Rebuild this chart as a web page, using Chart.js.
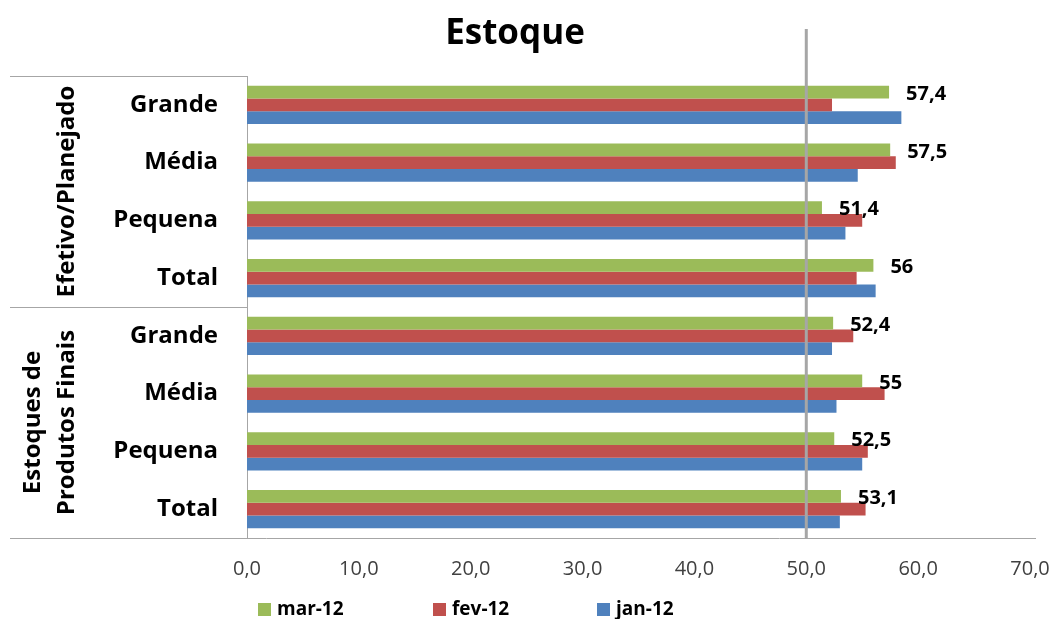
<!DOCTYPE html>
<html>
<head>
<meta charset="utf-8">
<script src="https://cdn.jsdelivr.net/npm/chart.js@4"></script>
<style>
    body { margin: 0; background: #fff; }
    #wrap { width: 1057px; height: 619px; }
</style>
</head>
<body>
<div id="wrap"><canvas id="stockChart"></canvas></div>
<script>
// Chart data
const categories = ["Grande", "Média", "Pequena", "Total", "Grande", "Média", "Pequena", "Total"];
const groups = [["Efetivo/Planejado"], ["Estoques de", "Produtos Finais"]];
const seriesNames = ["mar-12", "fev-12", "jan-12"];
const mar12 = [57.4, 57.5, 51.4, 56, 52.4, 55, 52.5, 53.1];
const fev12 = [52.3, 58.0, 55.0, 54.5, 54.2, 57.0, 55.5, 55.3];
const jan12 = [58.5, 54.6, 53.5, 56.2, 52.3, 52.7, 55.0, 53.0];
const xTicks = [0, 10, 20, 30, 40, 50, 60, 70];
const refLine = 50;

const colors = ["#9BBB59", "#C0504D", "#4F81BD"];
const FONT = "'Open Sans', 'Noto Sans', sans-serif";

function fmt(v) {
    return String(v).replace(".", ",");
}

// Extra drawing: reference line, group labels, separators, data labels, legend
const extras = {
    id: "extras",
    afterDatasetsDraw(chart) {
        const ctx = chart.ctx;
        const x = chart.scales.x;
        const y = chart.scales.y;
        const area = chart.chartArea;

        // line at 50
        const xr = x.getPixelForValue(refLine);
        ctx.save();
        ctx.strokeStyle = "#a6a6a6";
        ctx.lineWidth = 3;
        ctx.beginPath();
        ctx.moveTo(xr, 29);
        ctx.lineTo(xr, area.bottom);
        ctx.stroke();

        // separators
        ctx.strokeStyle = "#a6a6a6";
        ctx.lineWidth = 1;
        const half = (y.getPixelForValue(1) - y.getPixelForValue(0)) / 2;
        const sepMid = y.getPixelForValue(3) + half;
        ctx.beginPath();
        ctx.moveTo(10, area.top + 0.5); ctx.lineTo(area.left, area.top + 0.5);
        ctx.moveTo(10, Math.round(sepMid) + 0.5); ctx.lineTo(area.left, Math.round(sepMid) + 0.5);
        ctx.moveTo(10, area.bottom + 0.5); ctx.lineTo(area.right + 6, area.bottom + 0.5);
        ctx.stroke();

        // group labels
        ctx.fillStyle = "#000";
        ctx.font = "bold 24px " + FONT;
        ctx.textAlign = "center";
        ctx.textBaseline = "middle";
        const g1 = (area.top + sepMid) / 2;
        const g2 = (sepMid + area.bottom) / 2;
        ctx.save();
        ctx.translate(67, g1);
        ctx.rotate(-Math.PI / 2);
        ctx.fillText(groups[0][0], 0, 0);
        ctx.restore();
        ctx.save();
        ctx.translate(33, g2);
        ctx.rotate(-Math.PI / 2);
        ctx.fillText(groups[1][0], 0, 0);
        ctx.restore();
        ctx.save();
        ctx.translate(67, g2);
        ctx.rotate(-Math.PI / 2);
        ctx.fillText(groups[1][1], 0, 0);
        ctx.restore();

        // data labels for mar-12
        ctx.font = "bold 20px " + FONT;
        ctx.textAlign = "left";
        const meta = chart.getDatasetMeta(0);
        meta.data.forEach((bar, i) => {
            ctx.fillText(fmt(chart.data.datasets[0].data[i]), bar.x + 17, bar.y + 2);
        });

        // legend
        const lx = [258, 433, 597];
        ctx.font = "bold 19px " + FONT;
        chart.data.datasets.forEach((ds, i) => {
            ctx.fillStyle = ds.backgroundColor;
            ctx.fillRect(lx[i], 603, 13, 13);
            ctx.fillStyle = "#000";
            ctx.fillText(ds.label, lx[i] + 19, 610);
        });
        ctx.restore();
    }
};

const ctx = document.getElementById("stockChart").getContext("2d");

const stockChart = new Chart(ctx, {
    type: "bar",
    data: {
        labels: categories,
        datasets: [
            { label: seriesNames[0], data: mar12, backgroundColor: colors[0] },
            { label: seriesNames[1], data: fev12, backgroundColor: colors[1] },
            { label: seriesNames[2], data: jan12, backgroundColor: colors[2] }
        ]
    },
    options: {
        indexAxis: "y",
        responsive: true,
        maintainAspectRatio: false,
        animation: false,
        categoryPercentage: 0.66,
        barPercentage: 1.0,
        layout: { padding: { left: 0, right: 27, top: 0, bottom: 0 } },
        plugins: {
            legend: { display: false },
            tooltip: { enabled: false },
            title: {
                display: true,
                text: "Estoque",
                color: "#000",
                font: { family: FONT, size: 35, weight: "bold" },
                padding: { top: 13, bottom: 21 }
            }
        },
        scales: {
            x: {
                min: 0,
                max: 70,
                afterBuildTicks: s => { s.ticks = xTicks.map(v => ({ value: v })); },
                afterFit: s => {
                    s.height = 81;
                    s.paddingLeft = 0;
                    s.paddingRight = 0;
                },
                ticks: {
                    callback: v => v.toFixed(1).replace(".", ","),
                    color: "#404040",
                    font: { family: FONT, size: 20 },
                    padding: 19,
                    maxRotation: 0
                },
                grid: { display: false, drawTicks: false },
                border: { display: false }
            },
            y: {
                afterFit: s => { s.width = 247; },
                ticks: {
                    color: "#000",
                    font: { family: FONT, size: 24, weight: "bold" },
                    padding: 29
                },
                grid: { display: false, drawTicks: false },
                border: { display: true, color: "#a6a6a6", width: 1 }
            }
        }
    },
    plugins: [extras]
});
</script>
</body>
</html>
